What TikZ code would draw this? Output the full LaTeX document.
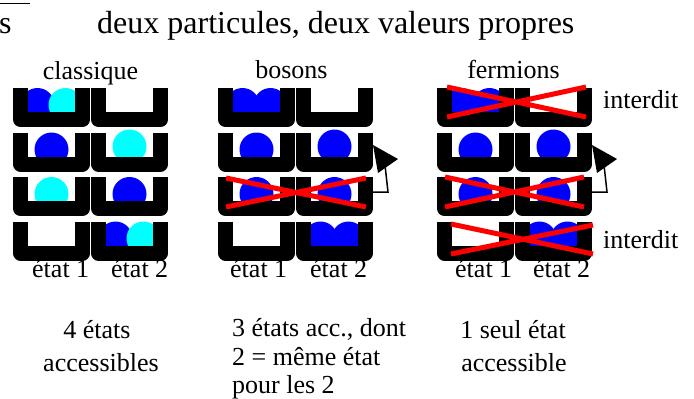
\documentclass[tikz,border=0pt]{standalone}
\usepackage{fontspec}
\setmainfont{Liberation Serif}
\newfontfamily\serifface{Liberation Serif}
\definecolor{pblue}{RGB}{0,0,255}
\definecolor{paqua}{RGB}{0,255,255}
\definecolor{pred}{RGB}{255,0,0}
\tikzset{
  txt/.style={font=\serifface\fontsize{26}{30}\selectfont, inner sep=0pt},
  ttl/.style={font=\serifface\fontsize{32}{36}\selectfont, inner sep=0pt},
  wall/.style={line width=15pt, line join=round, line cap=butt},
  forbid/.style={pred, line width=5pt},
  link/.style={line width=1.5pt},
  ucell/.pic={\draw[wall] (7.5,0) -- (7.5,31.5) -- (69.5,31.5) -- (69.5,0);},
}
\newcommand\ballat[3]{\fill[#1] (#2,#3) circle[radius=17pt];}
\begin{document}
\begin{tikzpicture}[x=1pt,y=-1pt]
\useasboundingbox (0,0) rectangle (694,399);

% heading
\draw[line width=1pt] (0,3) -- (30,3);
\node[ttl, anchor=base west] (tail) at (-1,33) {s};
\node[ttl, anchor=base west] (title) at (97,33) {deux particules, deux valeurs propres};

% column headings
\node[txt, anchor=base] (hclass) at (90.5,79) {classique};
\node[txt, anchor=base] (hbos) at (291.5,78) {bosons};
\node[txt, anchor=base] (hferm) at (513.5,78) {fermions};

% particles: classique (x0 = 13)
\ballat{pblue}{37.5}{105}\ballat{paqua}{65.5}{105}
\ballat{pblue}{51.5}{149.5}\ballat{paqua}{129.5}{146.5}
\ballat{paqua}{51.5}{194}\ballat{pblue}{129.5}{194}
\ballat{pblue}{115.5}{238.5}\ballat{paqua}{143.5}{238.5}

% particles: bosons (x0 = 218)
\ballat{pblue}{242.5}{105}\ballat{pblue}{270.5}{105}
\ballat{pblue}{256.5}{149.5}\ballat{pblue}{334.5}{146.5}
\ballat{pblue}{256.5}{194}\ballat{pblue}{334.5}{194}
\ballat{pblue}{320.5}{238.5}\ballat{pblue}{348.5}{238.5}

% particles: fermions (x0 = 437)
\ballat{pblue}{461.5}{105}\ballat{pblue}{489.5}{105}
\ballat{pblue}{475.5}{149.5}\ballat{pblue}{553.5}{146.5}
\ballat{pblue}{475.5}{194}\ballat{pblue}{553.5}{194}
\ballat{pblue}{539.5}{238.5}\ballat{pblue}{567.5}{238.5}

% the two levels, four configurations per column
\foreach \gx in {13,218,437}{
  \foreach \ry in {88,132.5,177,221.5}{
    \pic at (\gx,\ry) {ucell};
    \pic at (\gx+78,\ry) {ucell};
  }
}

% forbidden configurations
\draw[forbid] (226,178) -- (366,207) (226,207) -- (366,178);
\draw[forbid] (447,87) -- (586,117) (447,117) -- (586,87);
\draw[forbid] (445,177) -- (584,207) (445,207) -- (584,177);
\draw[forbid] (451,224) -- (593,254) (451,254) -- (593,225);

% same-state arrows
\coordinate (bs) at (373,192);
\coordinate (bk) at (388,192);
\coordinate (be) at (385,165);
\draw[link] (bs) -- (bk) -- (be);
\fill (373,145) -- (398,159) -- (378,173) -- cycle;
\coordinate (fs) at (592,192);
\coordinate (fk) at (607,192);
\coordinate (fe) at (604,165);
\draw[link] (fs) -- (fk) -- (fe);
\fill (592,145) -- (617,159) -- (597,173) -- cycle;

\node[txt, anchor=base west] (int1) at (603,108) {interdit};
\node[txt, anchor=base west] (int4) at (603,248) {interdit};

% level labels
\node[txt, anchor=base west] (c1) at (32,277) {état 1};
\node[txt, anchor=base west] (c2) at (111,277) {état 2};
\node[txt, anchor=base west] (b1) at (230,277) {état 1};
\node[txt, anchor=base west] (b2) at (310,277) {état 2};
\node[txt, anchor=base west] (f1) at (455,277) {état 1};
\node[txt, anchor=base west] (f2) at (533,277) {état 2};

% counts
\node[txt, anchor=base] (nc1) at (97,338) {4 états};
\node[txt, anchor=base] (nc2) at (101,371) {accessibles};
\node[txt, anchor=base west] (nb1) at (232,336) {3 états acc., dont};
\node[txt, anchor=base west] (nb2) at (232,365) {2 = même état};
\node[txt, anchor=base west] (nb3) at (232,393) {pour les 2};
\node[txt, anchor=base] (nf1) at (513,338) {1 seul état};
\node[txt, anchor=base] (nf2) at (514,371) {accessible};
\end{tikzpicture}
\end{document}
